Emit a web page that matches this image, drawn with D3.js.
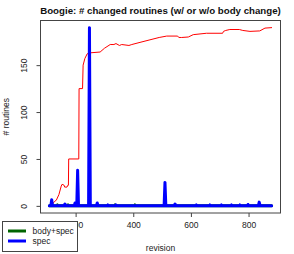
<!DOCTYPE html>
<html>
<head>
<meta charset="utf-8">
<script src="https://cdn.jsdelivr.net/npm/d3@7"></script>
<style>
  body { margin: 0; background: #fff; }
  svg { display: block; font-family: "Liberation Sans", Arial, sans-serif; }
</style>
</head>
<body>
<div id="chart"></div>
<script>
// Red line: all changed routines (cumulative)
const redRev = [109, 114, 128, 133, 142, 150, 153, 160, 162, 170, 173, 175, 176, 211, 212, 224, 226, 232, 240, 245,
  285, 300, 320, 333, 340, 352, 360, 385, 395, 420, 458, 490, 516, 554, 558, 568, 591, 608, 654, 710, 713,
  721, 735, 768, 780, 805, 839, 857, 880];
const redVal = [0, 0, 5, 6, 12, 21, 23, 22, 20, 20, 22, 22, 50, 50, 125, 125, 150, 157, 162, 163,
  164, 168, 172, 172, 173, 171, 172, 171, 172, 174, 177, 179.5, 181, 181, 179.5, 179.5, 180, 182.5, 184, 184, 186,
  187, 188, 188, 187, 186, 186.5, 189.5, 190];

// body+spec (dark green)
const bodyRev = [109, 135, 137, 139, 172, 174, 176, 335, 337, 339, 404, 406, 408, 880];
const bodyVal = [0, 0, 1, 0, 0, 1, 0, 0, 1, 0, 0, 1, 0, 0];

// spec (blue)
const specRev = [109, 114, 117, 120, 160, 163, 166, 195, 198, 201, 204, 207, 210, 245, 248, 251, 272, 275, 278,
  310, 312, 314, 338, 340, 342, 507, 510, 513, 542, 545, 548, 617, 619, 621, 664, 666, 668, 704, 706, 708,
  739, 741, 743, 768, 770, 772, 796, 798, 800, 834, 837, 840, 880];
const specVal = [0, 0, 6.5, 0, 0, 2, 0, 0, 3, 0, 0, 38, 0, 0, 190, 0, 0, 3, 0,
  0, 1, 0, 0, 1, 0, 0, 25, 0, 0, 2, 0, 0, 1, 0, 0, 1, 0, 0, 1, 0,
  0, 1, 0, 0, 1, 0, 0, 1.5, 0, 0, 4, 0, 0];

const xTicks = [200, 400, 600, 800];
const yTicks = [0, 50, 100, 150];
const legendLabels = ["body+spec", "spec"];
const legendColors = ["#006400", "#0000ff"];

const W = 294, H = 254;
const box = { left: 40.5, right: 280.5, top: 20.5, bottom: 213 };

const svg = d3.select("#chart").append("svg")
  .attr("width", W)
  .attr("height", H);

// R style 4% padding on both axes
function pad(ext) {
  const r = ext[1] - ext[0];
  return [ext[0] - 0.04 * r, ext[1] + 0.04 * r];
}
const allRev = redRev.concat(bodyRev, specRev);
const allVal = redVal.concat(bodyVal, specVal);

const x = d3.scaleLinear().domain(pad(d3.extent(allRev))).range([box.left, box.right]);
const y = d3.scaleLinear().domain(pad([0, d3.max(allVal)])).range([box.bottom, box.top]);

const line = d3.line()
  .x(d => x(d[0]))
  .y(d => y(d[1]));

function drawSeries(revs, vals, color, width) {
  svg.append("path")
    .datum(revs.map((r, i) => [r, vals[i]]))
    .attr("d", line)
    .attr("fill", "none")
    .attr("stroke", color)
    .attr("stroke-width", width)
    .attr("stroke-linejoin", "round")
    .attr("stroke-linecap", "round");
}

drawSeries(redRev, redVal, "#ff0000", 1);
drawSeries(bodyRev, bodyVal, "#006400", 3);
drawSeries(specRev, specVal, "#0000ff", 3);

// plot box
svg.append("rect")
  .attr("x", box.left).attr("y", box.top)
  .attr("width", box.right - box.left).attr("height", box.bottom - box.top)
  .attr("fill", "none").attr("stroke", "#444").attr("stroke-width", 1);

// axes
const xAxis = svg.append("g")
  .attr("transform", `translate(0,${box.bottom})`)
  .call(d3.axisBottom(x).tickValues(xTicks).tickSize(4).tickPadding(5).tickSizeOuter(0));
const yAxis = svg.append("g")
  .attr("transform", `translate(${box.left},0)`)
  .call(d3.axisLeft(y).tickValues(yTicks).tickSize(4).tickPadding(0).tickSizeOuter(0));

[xAxis, yAxis].forEach(g => {
  g.select(".domain").remove();
  g.selectAll(".tick line").attr("stroke", "#444");
  g.selectAll("text").attr("font-family", "Liberation Sans, Arial, sans-serif")
    .attr("font-size", 8.5).attr("fill", "#222");
});

// rotated y tick labels like R
yAxis.selectAll(".tick text")
  .attr("x", null).attr("dy", null)
  .attr("text-anchor", "middle")
  .attr("transform", "translate(-13.5,0) rotate(-90)");

// title
svg.append("text")
  .attr("x", (box.left + box.right) / 2).attr("y", 13.6)
  .attr("text-anchor", "middle")
  .attr("font-weight", "bold").attr("font-size", 9.7)
  .attr("fill", "#111")
  .text("Boogie: # changed routines (w/ or w/o body change)");

// axis titles
svg.append("text")
  .attr("x", (box.left + box.right) / 2).attr("y", 251)
  .attr("text-anchor", "middle")
  .attr("font-size", 8.5).attr("fill", "#222")
  .text("revision");

svg.append("text")
  .attr("transform", `translate(8.8,${(box.top + box.bottom) / 2}) rotate(-90)`)
  .attr("text-anchor", "middle")
  .attr("font-size", 8.5).attr("fill", "#222")
  .text("# routines");

// legend
const legend = svg.append("g");
legend.append("rect")
  .attr("x", 2.5).attr("y", 221.5).attr("width", 75).attr("height", 30)
  .attr("fill", "#fff").attr("stroke", "#444");

legendLabels.forEach((lab, i) => {
  const ly = 231 + i * 10;
  legend.append("line")
    .attr("x1", 8).attr("x2", 26).attr("y1", ly).attr("y2", ly)
    .attr("stroke", legendColors[i]).attr("stroke-width", 3);
  legend.append("text")
    .attr("x", 32.5).attr("y", ly).attr("dy", "0.35em")
    .attr("font-size", 8.5).attr("fill", "#222")
    .text(lab);
});
</script>
</body>
</html>
